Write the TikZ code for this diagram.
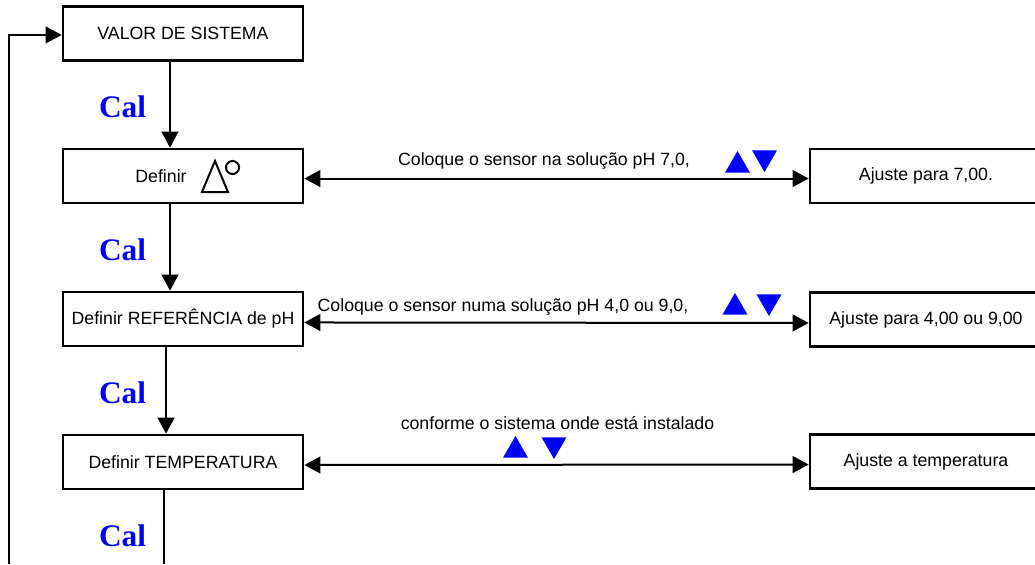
\documentclass[tikz,border=0pt]{standalone}
\usepackage{fontspec}
\setmainfont{Liberation Sans}
\newfontfamily\calfont{Liberation Serif}
\usetikzlibrary{arrows.meta,shapes.geometric}

\begin{document}
\begin{tikzpicture}[x=0.75pt,y=-0.75pt,
    >={Triangle[length=12pt,width=12.5pt]},
    caixa/.style ={draw, line width=2pt, minimum width=180pt, minimum height=40.5pt,
      inner sep=0pt, font=\fontsize{13.3pt}{16pt}\selectfont},
    ajuste/.style ={caixa, minimum width=174pt},
    texto/.style ={font=\fontsize{13.3pt}{16pt}\selectfont, inner sep=0pt},
    cal/.style ={font=\calfont\bfseries\fontsize{23.5pt}{28pt}\selectfont, text=blue,
      inner sep=0pt, anchor=base},
    seta/.style ={line width=1.5pt},
    tecla/.style ={regular polygon, regular polygon sides=3, fill=blue, draw=none,
      inner sep=0pt, minimum size=21.6pt},
    teclab/.style ={tecla, regular polygon rotate=180}]
   \useasboundingbox (0,0) rectangle (1035,564);
   % coluna da esquerda
   \node[caixa] (valor) at (183,33.5) {VALOR DE SISTEMA};
   \node[caixa] (def) at (183,176) {Definir\kern33pt};
   \node[caixa] (ref) at (183,319) {Definir REFERÊNCIA de pH};
   \node[caixa] (temp) at (183,462) {Definir TEMPERATURA};
   % coluna da direita
   \node[ajuste] (aj7) at (926,176) {Ajuste para 7,00.};
   \node[ajuste] (aj49) at (926,319.5) {Ajuste para 4,00 ou 9,00};
   \node[ajuste] (ajt) at (926,461.5) {Ajuste a temperatura};
   % simbolo
   \draw[line width=1.5pt, line join=miter] (202,192) -- (215,161) -- (228,192) -- cycle;
   \draw[line width=1.5pt] (232.5,167.5) circle[radius=4.9pt];
   % Cal
   \node[cal] (cal1) at (122.5,117.5) {Cal};
   \node[cal] (cal2) at (122.5,260) {Cal};
   \node[cal] (cal3) at (122.5,403) {Cal};
   \node[cal] (cal4) at (122.5,546) {Cal};
   \coordinate (fim) at (164,564);
   \coordinate (volta) at (9,564);
   \draw[seta,->] ([xshift=-9.75pt]valor.south) -- ([xshift=-9.75pt]def.north);
   \draw[seta,->] ([xshift=-9.75pt]def.south) -- ([xshift=-9.75pt]ref.north);
   \draw[seta,->] ([xshift=-12.75pt]ref.south) -- ([xshift=-12.75pt]temp.north);
   \draw[seta] (temp.south -| fim) -- (fim);
   \draw[seta,->] (volta) |- ([yshift=-1.1pt]valor.west);
   % setas horizontais
   \draw[seta,<->] ([yshift=-1.9pt]def.east) -- ([yshift=-1.9pt]aj7.west);
   \draw[seta,<->] ([yshift=-2.6pt]ref.east) -- ([yshift=-2.6pt]aj49.west);
   \draw[seta,<->] ([yshift=-2.25pt]temp.east) -- ([yshift=-2.25pt]ajt.west);
   \node[texto, anchor=base] (t7) at (544,165) {Coloque o sensor na solução pH 7,0,};
   \node[texto, anchor=base] (t49) at (503,311) {Coloque o sensor numa solução pH 4,0 ou 9,0,};
   \node[texto, anchor=base] (tt) at (557.5,429) {conforme o sistema onde está instalado};
   % teclas
   \node[tecla] (c1) at (737.5,165.4) {};
   \node[teclab] (b1) at (764.5,157.6) {};
   \node[tecla] (c2) at (735,307.4) {};
   \node[teclab] (b2) at (769,301.6) {};
   \node[tecla] (c3) at (515.5,450.4) {};
   \node[teclab] (b3) at (554,444.6) {};
 \end{tikzpicture}
\end{document}
